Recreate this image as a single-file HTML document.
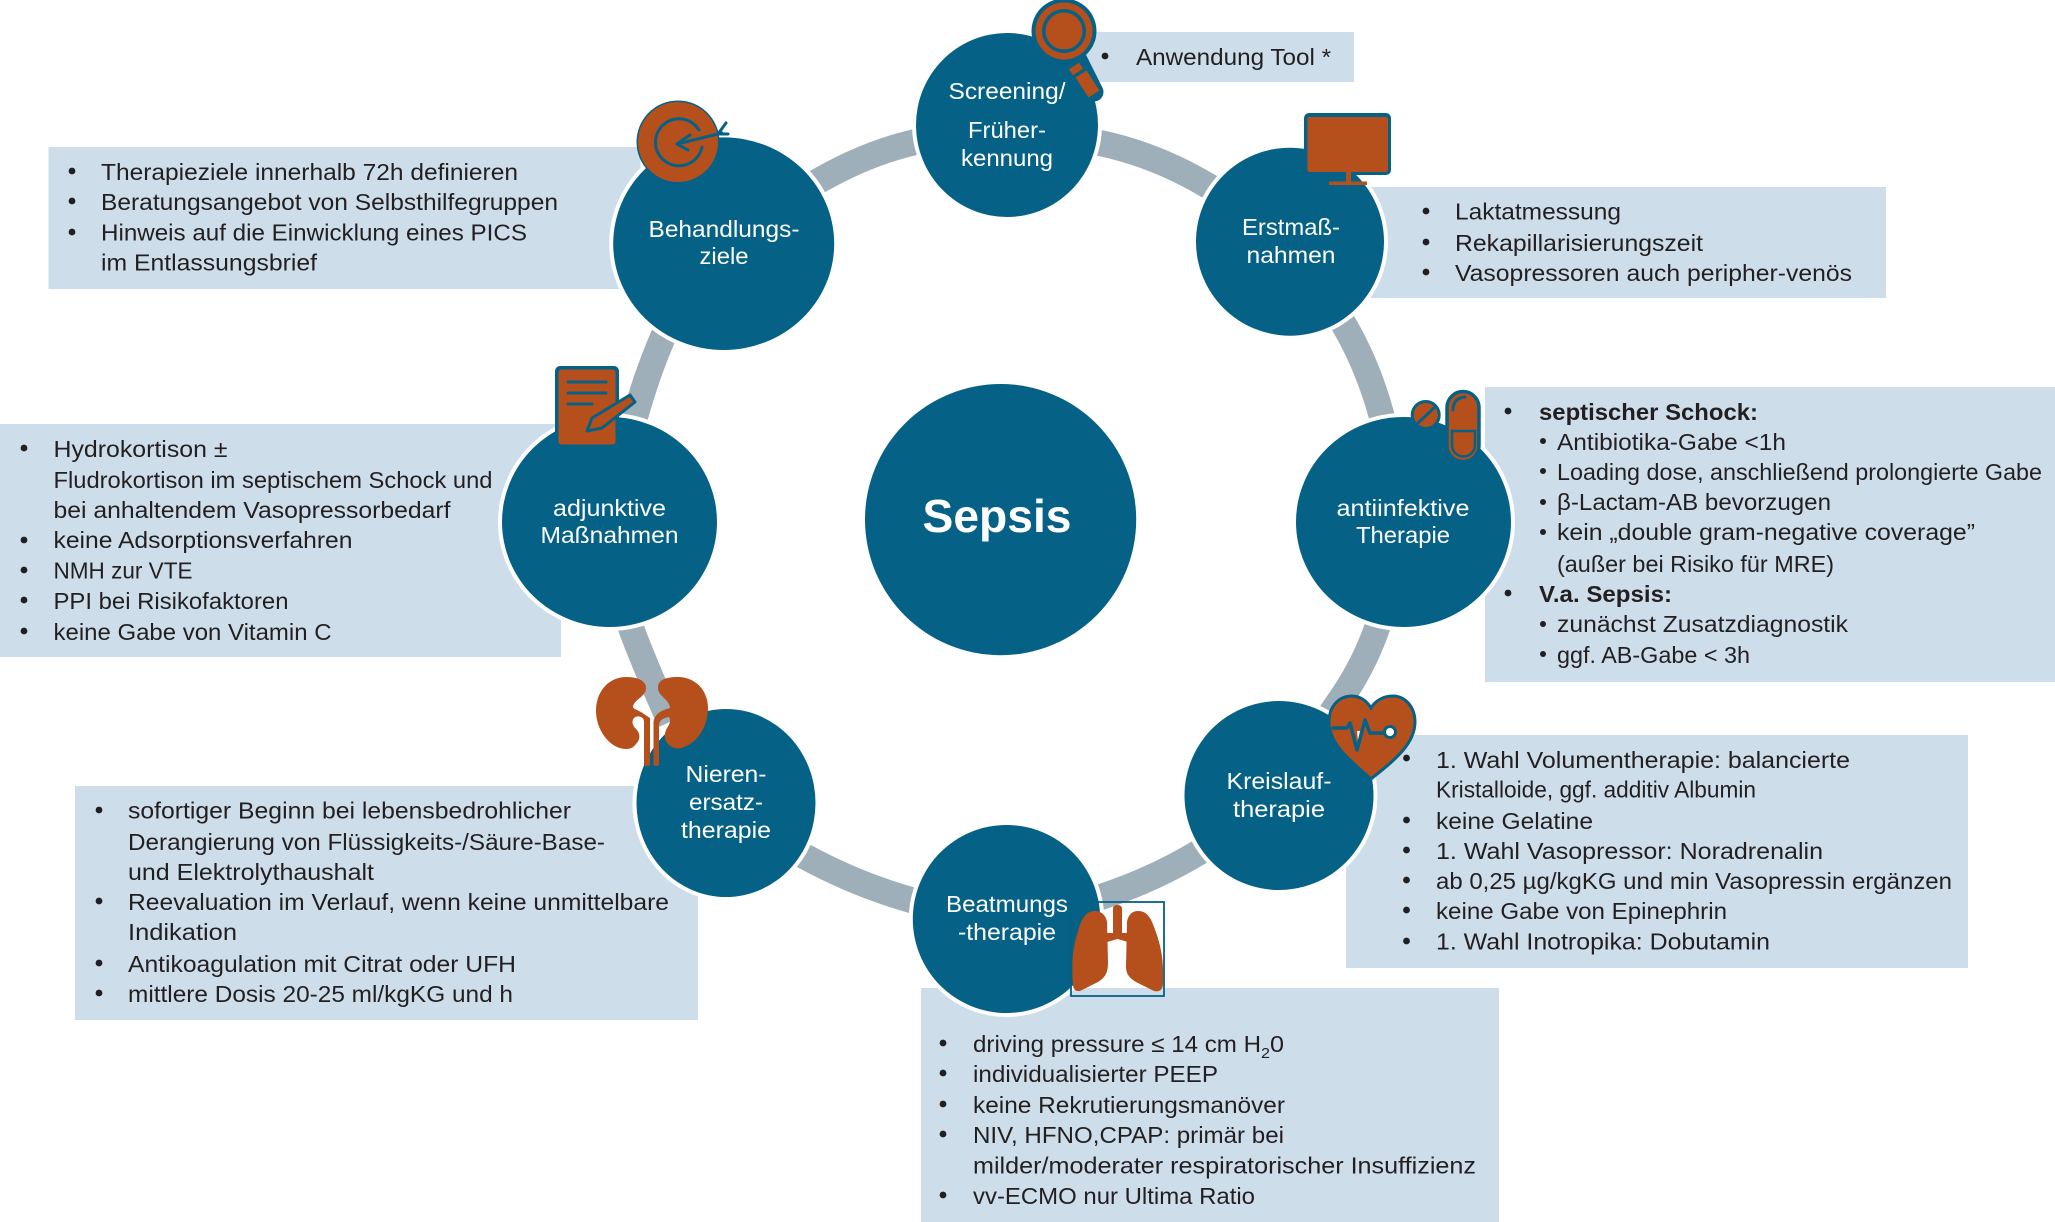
<!DOCTYPE html>
<html lang="de">
<head>
<meta charset="utf-8">
<title>Sepsis</title>
<style>
html,body{margin:0;padding:0;background:#fff}
svg{display:block}
text{font-family:"Liberation Sans",sans-serif;font-size:23px;fill:#231f20}
.w{fill:#fff;text-anchor:middle;font-size:23.5px}
.b{font-weight:bold}
.box{fill:#cddeea}
.n{fill:#056185;stroke:#fff;stroke-width:8;paint-order:stroke}
.or{fill:#b54f1b}
.bl{fill:#056185}
.ls{fill:none;stroke:#056185;stroke-width:3;stroke-linecap:round;stroke-linejoin:round}
.dot{fill:#231f20}
.seg{fill:none;stroke:#9fafb9;stroke-width:26}
</style>
</head>
<body>
<svg xmlns="http://www.w3.org/2000/svg" width="2055" height="1222" viewBox="0 0 2055 1222">
<rect width="2055" height="1222" fill="#fff"/>
<!-- ring segments -->
<path class="seg" d="M1090 141 L1100 143 Q1157 155 1210 187 L1225 196"/>
<path class="seg" d="M1335 310 L1343 323 Q1367.500 364 1382 417 L1390 450"/>
<path class="seg" d="M1382 610 L1377 628 Q1363 668 1338 703 L1325 722"/>
<path class="seg" d="M1215 838 L1199.500 852 Q1153 880 1101 897 L1085 902"/>
<path class="seg" d="M790 848 L804 856 Q855 884 911 900 L925 904"/>
<path class="seg" d="M628 620 L635.500 640 Q648 672 670 722"/>
<path class="seg" d="M672 320 L663 337 Q647 374 635 417 L630 435"/>
<path class="seg" d="M810 186 Q868 151 925 140"/>
<!-- boxes -->
<rect class="box" x="1060" y="32" width="294" height="50"/>
<rect class="box" x="1250" y="187" width="636" height="111"/>
<rect class="box" x="1485" y="387" width="570" height="295"/>
<rect class="box" x="1346" y="735" width="622" height="233"/>
<rect class="box" x="921" y="988" width="578" height="234"/>
<rect class="box" x="75" y="786" width="623" height="234"/>
<rect class="box" x="0" y="424" width="561" height="233"/>
<rect class="box" x="48.500" y="147" width="592" height="142"/>
<!-- nodes -->
<circle class="n" cx="1000.600" cy="519.600" r="135.600"/>
<ellipse class="n" cx="1007" cy="125" rx="91" ry="92"/>
<ellipse class="n" cx="1290" cy="241.700" rx="94" ry="94"/>
<ellipse class="n" cx="1403.500" cy="522" rx="107.500" ry="105"/>
<ellipse class="n" cx="1279" cy="795.500" rx="94.500" ry="94.500"/>
<ellipse class="n" cx="1006.500" cy="919" rx="93.700" ry="94"/>
<ellipse class="n" cx="726" cy="803" rx="89.500" ry="94"/>
<ellipse class="n" cx="609.500" cy="522" rx="107.500" ry="105"/>
<ellipse class="n" cx="723.700" cy="243.700" rx="110.500" ry="106.300"/>
<!-- magnifier -->
<path d="M1077 58 L1094 92" stroke="#056185" stroke-width="19" stroke-linecap="round" fill="none"/>
<path d="M1074 66 L1078 72" stroke="#b54f1b" stroke-width="12" fill="none"/>
<path d="M1081 74 L1094 94" stroke="#b54f1b" stroke-width="13" fill="none"/>
<circle class="bl" cx="1064" cy="31" r="32.500"/>
<circle class="or" cx="1064" cy="31" r="28.500"/>
<circle class="bl" cx="1064" cy="31" r="22"/>
<circle class="or" cx="1064" cy="31" r="18.500"/>
<!-- monitor -->
<rect class="bl" x="1304" y="113" width="87" height="62" rx="5"/>
<rect class="or" x="1307.500" y="117" width="80.500" height="55" rx="2"/>
<rect class="or" x="1346" y="172" width="5" height="10"/>
<rect class="or" x="1329" y="181.500" width="38" height="3.500"/>
<!-- target -->
<circle class="bl" cx="678" cy="142" r="41.500"/>
<circle class="or" cx="678" cy="142" r="40"/>
<path class="ls" d="M699 130 A23.500 23.500 0 1 0 702 147"/>
<path class="ls" d="M722 133 L677 144 M690 135 L677 144 L688 150 M726 123 L718 134 L728 134"/>
<!-- notepad -->
<rect class="bl" x="555" y="366" width="64" height="79" rx="5"/>
<rect class="or" x="558.500" y="369.500" width="57" height="75" rx="3"/>
<path class="ls" d="M568 382 H606 M568 393 H606 M568 404 H592"/>
<path d="M635 402 L630 395 L592 418 L587 431 L602 428 Z" fill="#b54f1b" stroke="#056185" stroke-width="3" stroke-linejoin="round"/>
<!-- pills -->
<circle cx="1425.700" cy="415" r="13.500" fill="#b54f1b" stroke="#056185" stroke-width="3"/>
<path d="M1417 424 L1436 406" fill="none" stroke="#056185" stroke-width="3"/>
<rect x="1447" y="391.500" width="32" height="70" rx="16" fill="#b54f1b" stroke="#056185" stroke-width="3.500"/>
<path d="M1452 431 H1475 V445 A11.500 11.500 0 0 1 1452 445 Z" fill="none" stroke="#056185" stroke-width="2.500"/>
<path class="ls" d="M1465 397 Q1453 398 1453 410"/>
<!-- heart -->
<path d="M1371 779 C1352 762 1329 745 1329 722 C1329 705 1340 696 1352 696 C1360 696 1367 701 1371 708 C1375 701 1383 696 1393 696 C1406 696 1415 708 1415 722 C1415 745 1392 762 1371 779 Z" fill="#b54f1b" stroke="#056185" stroke-width="3"/>
<path d="M1357 731 L1360 731 L1358 741 Z" fill="#fff"/>
<path class="ls" style="stroke-width:3.500" d="M1333 728 H1347 L1350 723 L1357 750 L1365 720 L1370 733 H1385"/>
<circle cx="1390" cy="732" r="5.500" fill="#fff" stroke="#056185" stroke-width="3"/>
<!-- kidneys -->
<path d="M633 706 L643 702 L651 716 L652 740 L645 740 L640 735 L630 720 Z" fill="#fff"/>
<path class="or" d="M626 677 C638 677 646 681 646 688 C646 697 633 700 633 707 C633 709 640 711 644 714 L650 718 L650 765 Q647 767 644 765 L644 722 C644 716 637 715 634 718 C631 722 633 726 636 729 C641 734 640 740 636 744 C633 748 630 749 626 749 C610 749 596 730 596 711 C596 690 610 677 626 677 Z"/>
<path class="or" d="M678 677 C665 677 658 680 658 688 C658 696 670 700 670 708 C664 710 655 712 653.500 722 L653.500 765 Q656 767 659 765 L659 726 C659 720 663 718 669 717 C672 722 668 726 666 730 C663 738 666 744 672 747 C676 749 680 749 684 747 C698 742 708 726 708 708 C708 690 695 677 678 677 Z"/>
<!-- lungs -->
<path class="or" d="M1095 911 C1101 911 1106 915 1107 922 L1108 962 C1108 972 1106 977 1098 982 L1082 990 C1077 993 1073 990 1073 984 C1071 960 1073 945 1080 925 C1084 914 1089 911 1095 911 Z"/>
<path class="or" d="M1138 911 C1132 911 1128 915 1127 922 L1126 966 C1126 973 1128 977 1136 982 L1152 990 C1157 993 1163 991 1163 984 C1164 960 1161 945 1154 927 C1150 915 1145 911 1138 911 Z"/>
<path class="or" d="M1113 909 Q1113 905 1117.500 905 Q1122 905 1122 909 L1122 933 L1128 933 L1128 942 L1117.500 939 L1107 942 L1107 933 L1113 933 Z"/>
<rect x="1071" y="902" width="93" height="94" fill="none" stroke="#056185" stroke-width="1.800"/>
<!-- node labels -->
<text class="w" x="1007" y="99" textLength="117" lengthAdjust="spacingAndGlyphs">Screening/</text>
<text class="w" x="1007" y="138" textLength="78" lengthAdjust="spacingAndGlyphs">Früher-</text>
<text class="w" x="1007" y="166" textLength="92" lengthAdjust="spacingAndGlyphs">kennung</text>
<text class="w" x="1291" y="235" textLength="98" lengthAdjust="spacingAndGlyphs">Erstmaß-</text>
<text class="w" x="1291" y="263" textLength="89" lengthAdjust="spacingAndGlyphs">nahmen</text>
<text class="w" x="724" y="237" textLength="151" lengthAdjust="spacingAndGlyphs">Behandlungs-</text>
<text class="w" x="724" y="264" textLength="49" lengthAdjust="spacingAndGlyphs">ziele</text>
<text class="w" x="1403" y="516" textLength="133" lengthAdjust="spacingAndGlyphs">antiinfektive</text>
<text class="w" x="1403" y="543" textLength="94" lengthAdjust="spacingAndGlyphs">Therapie</text>
<text class="w" x="609.500" y="516" textLength="113" lengthAdjust="spacingAndGlyphs">adjunktive</text>
<text class="w" x="609.500" y="543" textLength="138" lengthAdjust="spacingAndGlyphs">Maßnahmen</text>
<text class="w" x="1279" y="789" textLength="105" lengthAdjust="spacingAndGlyphs">Kreislauf-</text>
<text class="w" x="1279" y="817" textLength="92" lengthAdjust="spacingAndGlyphs">therapie</text>
<text class="w" x="1007" y="912" textLength="122" lengthAdjust="spacingAndGlyphs">Beatmungs</text>
<text class="w" x="1007" y="940" textLength="98" lengthAdjust="spacingAndGlyphs">-therapie</text>
<text class="w" x="726" y="782" textLength="81" lengthAdjust="spacingAndGlyphs">Nieren-</text>
<text class="w" x="726" y="810" textLength="74" lengthAdjust="spacingAndGlyphs">ersatz-</text>
<text class="w" x="726" y="838" textLength="90" lengthAdjust="spacingAndGlyphs">therapie</text>
<text class="w b" x="997" y="532" style="font-size:46px" textLength="149" lengthAdjust="spacingAndGlyphs">Sepsis</text>
<!-- Anwendung -->
<circle class="dot" cx="1105" cy="56" r="3.400"/>
<text x="1136" y="65" textLength="195" lengthAdjust="spacingAndGlyphs">Anwendung Tool *</text>
<!-- Erstmassnahmen -->
<circle class="dot" cx="1426" cy="211" r="3.400"/>
<circle class="dot" cx="1426" cy="242" r="3.400"/>
<circle class="dot" cx="1426" cy="272" r="3.400"/>
<text x="1455" y="219.500" textLength="166" lengthAdjust="spacingAndGlyphs">Laktatmessung</text>
<text x="1455" y="251" textLength="248" lengthAdjust="spacingAndGlyphs">Rekapillarisierungszeit</text>
<text x="1455" y="281" textLength="397" lengthAdjust="spacingAndGlyphs">Vasopressoren auch peripher-venös</text>
<!-- Behandlungsziele -->
<circle class="dot" cx="72" cy="171" r="3.400"/>
<circle class="dot" cx="72" cy="201" r="3.400"/>
<circle class="dot" cx="72" cy="232" r="3.400"/>
<text x="101" y="180" textLength="417" lengthAdjust="spacingAndGlyphs">Therapieziele innerhalb 72h definieren</text>
<text x="101" y="210" textLength="457" lengthAdjust="spacingAndGlyphs">Beratungsangebot von Selbsthilfegruppen</text>
<text x="101" y="240.500" textLength="426" lengthAdjust="spacingAndGlyphs">Hinweis auf die Einwicklung eines PICS</text>
<text x="101" y="270.500" textLength="216" lengthAdjust="spacingAndGlyphs">im Entlassungsbrief</text>
<!-- adjunktive -->
<circle class="dot" cx="24" cy="448" r="3.400"/>
<circle class="dot" cx="24" cy="540" r="3.400"/>
<circle class="dot" cx="24" cy="570" r="3.400"/>
<circle class="dot" cx="24" cy="600" r="3.400"/>
<circle class="dot" cx="24" cy="631" r="3.400"/>
<text x="53.500" y="457" textLength="174" lengthAdjust="spacingAndGlyphs">Hydrokortison ±</text>
<text x="53.500" y="488" textLength="439" lengthAdjust="spacingAndGlyphs">Fludrokortison im septischem Schock und</text>
<text x="53.500" y="518" textLength="397" lengthAdjust="spacingAndGlyphs">bei anhaltendem Vasopressorbedarf</text>
<text x="53.500" y="548" textLength="299" lengthAdjust="spacingAndGlyphs">keine Adsorptionsverfahren</text>
<text x="53.500" y="578.500" textLength="139" lengthAdjust="spacingAndGlyphs">NMH zur VTE</text>
<text x="53.500" y="609" textLength="235" lengthAdjust="spacingAndGlyphs">PPI bei Risikofaktoren</text>
<text x="53.500" y="640" textLength="278" lengthAdjust="spacingAndGlyphs">keine Gabe von Vitamin C</text>
<!-- Nierenersatz -->
<circle class="dot" cx="99" cy="810" r="3.400"/>
<circle class="dot" cx="99" cy="901" r="3.400"/>
<circle class="dot" cx="99" cy="963" r="3.400"/>
<circle class="dot" cx="99" cy="993" r="3.400"/>
<text x="128" y="818.500" textLength="443" lengthAdjust="spacingAndGlyphs">sofortiger Beginn bei lebensbedrohlicher</text>
<text x="128" y="850" textLength="477" lengthAdjust="spacingAndGlyphs">Derangierung von Flüssigkeits-/Säure-Base-</text>
<text x="128" y="880" textLength="246" lengthAdjust="spacingAndGlyphs">und Elektrolythaushalt</text>
<text x="128" y="910" textLength="541" lengthAdjust="spacingAndGlyphs">Reevaluation im Verlauf, wenn keine unmittelbare</text>
<text x="128" y="940" textLength="109" lengthAdjust="spacingAndGlyphs">Indikation</text>
<text x="128" y="972" textLength="388" lengthAdjust="spacingAndGlyphs">Antikoagulation mit Citrat oder UFH</text>
<text x="128" y="1002" textLength="385" lengthAdjust="spacingAndGlyphs">mittlere Dosis 20-25 ml/kgKG und h</text>
<!-- Beatmung -->
<circle class="dot" cx="943" cy="1043" r="3.400"/>
<circle class="dot" cx="943" cy="1073" r="3.400"/>
<circle class="dot" cx="943" cy="1104" r="3.400"/>
<circle class="dot" cx="943" cy="1134" r="3.400"/>
<circle class="dot" cx="943" cy="1195" r="3.400"/>
<text x="973" y="1052" textLength="288" lengthAdjust="spacingAndGlyphs">driving pressure ≤ 14 cm H</text>
<text x="1261" y="1058" style="font-size:15px" textLength="9" lengthAdjust="spacingAndGlyphs">2</text>
<text x="1270" y="1052" textLength="14" lengthAdjust="spacingAndGlyphs">0</text>
<text x="973" y="1082" textLength="245" lengthAdjust="spacingAndGlyphs">individualisierter PEEP</text>
<text x="973" y="1113" textLength="312" lengthAdjust="spacingAndGlyphs">keine Rekrutierungsmanöver</text>
<text x="973" y="1143" textLength="311" lengthAdjust="spacingAndGlyphs">NIV, HFNO,CPAP: primär bei</text>
<text x="973" y="1173.500" textLength="503" lengthAdjust="spacingAndGlyphs">milder/moderater respiratorischer Insuffizienz</text>
<text x="973" y="1204" textLength="282" lengthAdjust="spacingAndGlyphs">vv-ECMO nur Ultima Ratio</text>
<!-- Kreislauf -->
<circle class="dot" cx="1406.500" cy="758" r="3.400"/>
<circle class="dot" cx="1406.500" cy="820" r="3.400"/>
<circle class="dot" cx="1406.500" cy="850" r="3.400"/>
<circle class="dot" cx="1406.500" cy="880" r="3.400"/>
<circle class="dot" cx="1406.500" cy="910" r="3.400"/>
<circle class="dot" cx="1406.500" cy="941" r="3.400"/>
<text x="1436" y="768" textLength="414" lengthAdjust="spacingAndGlyphs">1. Wahl Volumentherapie: balancierte</text>
<text x="1436" y="797.500" textLength="320" lengthAdjust="spacingAndGlyphs">Kristalloide, ggf. additiv Albumin</text>
<text x="1436" y="829" textLength="157" lengthAdjust="spacingAndGlyphs">keine Gelatine</text>
<text x="1436" y="859" textLength="387" lengthAdjust="spacingAndGlyphs">1. Wahl Vasopressor: Noradrenalin</text>
<text x="1436" y="889" textLength="516" lengthAdjust="spacingAndGlyphs">ab 0,25 µg/kgKG und min Vasopressin ergänzen</text>
<text x="1436" y="919" textLength="291" lengthAdjust="spacingAndGlyphs">keine Gabe von Epinephrin</text>
<text x="1436" y="949.500" textLength="334" lengthAdjust="spacingAndGlyphs">1. Wahl Inotropika: Dobutamin</text>
<!-- antiinfektive -->
<circle class="dot" cx="1508" cy="411" r="3.400"/>
<circle class="dot" cx="1543" cy="441" r="3"/>
<circle class="dot" cx="1543" cy="471" r="3"/>
<circle class="dot" cx="1543" cy="502" r="3"/>
<circle class="dot" cx="1543" cy="532" r="3"/>
<circle class="dot" cx="1508" cy="593" r="3.400"/>
<circle class="dot" cx="1543" cy="624" r="3"/>
<circle class="dot" cx="1543" cy="654" r="3"/>
<text class="b" x="1539" y="420" textLength="219" lengthAdjust="spacingAndGlyphs">septischer Schock:</text>
<text x="1557" y="450" textLength="229" lengthAdjust="spacingAndGlyphs">Antibiotika-Gabe &lt;1h</text>
<text x="1557" y="480" textLength="485" lengthAdjust="spacingAndGlyphs">Loading dose, anschließend prolongierte Gabe</text>
<text x="1557" y="510" textLength="274" lengthAdjust="spacingAndGlyphs">β-Lactam-AB bevorzugen</text>
<text x="1557" y="540" textLength="418" lengthAdjust="spacingAndGlyphs">kein „double gram-negative coverage”</text>
<text x="1557" y="572" textLength="277" lengthAdjust="spacingAndGlyphs">(außer bei Risiko für MRE)</text>
<text class="b" x="1539" y="602" textLength="133" lengthAdjust="spacingAndGlyphs">V.a. Sepsis:</text>
<text x="1557" y="632" textLength="291" lengthAdjust="spacingAndGlyphs">zunächst Zusatzdiagnostik</text>
<text x="1557" y="663" textLength="193" lengthAdjust="spacingAndGlyphs">ggf. AB-Gabe &lt; 3h</text>
</svg>
</body>
</html>
